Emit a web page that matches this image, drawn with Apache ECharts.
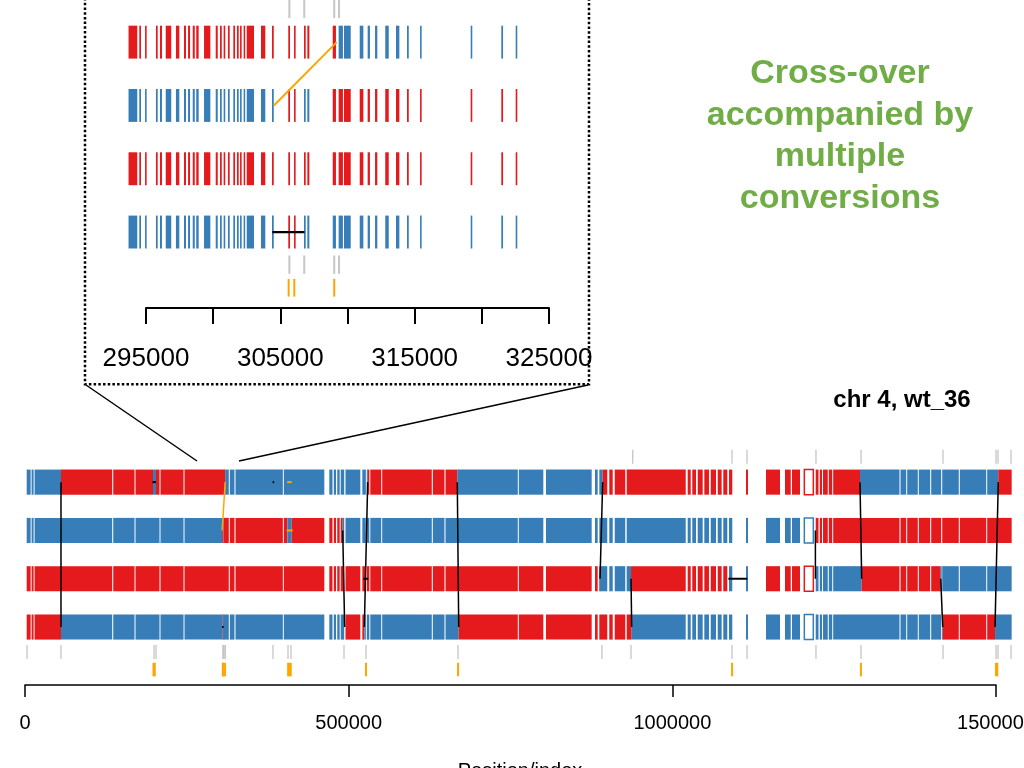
<!DOCTYPE html>
<html><head><meta charset="utf-8">
<script src="https://cdn.jsdelivr.net/npm/echarts@6/dist/echarts.min.js"></script>
<style>html,body{margin:0;padding:0;background:#fff}#c{width:1024px;height:768px}</style>
</head><body><div id="c"></div>
<script>
// ---------------- data (genomic positions) ----------------
const rowInitialColors = ['B', 'B', 'R', 'R'];           // rows 1..4 at chromosome start
// crossovers: [rowA, switch position in rowA, rowB, switch position in rowB, kind]
const crossovers = [
  [1, 55600, 4, 55600, 'k'],
  [1, 309200, 2, 304520, 'o'],
  [2, 490800, 4, 493800, 'k'],
  [1, 529400, 4, 524200, 'k'],
  [1, 667800, 4, 670000, 'k'],
  [1, 892400, 3, 888300, 'k'],
  [3, 936200, 4, 937200, 'k'],
  [2, 1221000, 3, 1221000, 'k'],
  [1, 1289900, 3, 1292500, 'k'],
  [3, 1414600, 4, 1417700, 'k'],
  [1, 1503500, 4, 1498500, 'k']
];
// conversions: [row, start, end, genotype]
const conversions = [
  [1, 197700, 202400, 'B'],
  [4, 305500, 306200, 'R'],
  [2, 306700, 307200, 'B'],
  [2, 405300, 412000, 'B'],
  [3, 1086000, 1117000, 'B']
];
// conversion tracts: [row, start, end, kind]
const tracts = [
  [1, 196900, 202400, 'k'],
  [4, 304400, 306800, 'k'],
  [1, 382500, 384500, 'k'],
  [1, 405000, 412000, 'o'],
  [2, 404300, 413500, 'o'],
  [3, 522600, 530300, 'k'],
  [3, 1086500, 1115900, 'k']
];
// marker blocks of the whole-chromosome view
const mainBlocks = [
  [2600, 8700], [10200, 13300], [14800, 134700], [136300, 169200], [170700, 207800], [209300, 244900],
  [246400, 314800], [316400, 323600], [325200, 398300], [399800, 462400],
  [470100, 475000], [477000, 480400], [482400, 486100], [487700, 493100], [495100, 518000], [521100, 526500],
  [528000, 531900], [533400, 550300], [551800, 628400], [630000, 648000], [649600, 761300], [762800, 800700],
  [804800, 875400], [880500, 884700], [887200, 899500], [902600, 907900], [911000, 927300], [929500, 1020700],
  [1023700, 1028400], [1030800, 1036600], [1039200, 1046900], [1049400, 1056600], [1059300, 1067500],
  [1070100, 1076200], [1078700, 1084900], [1087500, 1092600], [1113800, 1116900],
  [1144700, 1166300], [1174000, 1182900], [1184900, 1197200], [1221500, 1225800], [1227800, 1231200],
  [1232800, 1240100], [1241700, 1247000], [1248500, 1350900], [1352500, 1361300], [1362800, 1379200],
  [1380700, 1398300], [1399900, 1415300], [1416900, 1442500], [1444100, 1484900], [1486400, 1524200]
];
const mainOpenBlocks = [[1203900, 1217800]];
// individual markers of the zoomed view
const insetMarkers = [
  [293700, 294350], [294500, 294630], [294930, 295050], [295740, 295870], [296040, 296190], [296470, 296880],
  [297230, 297480], [297830, 297980], [298130, 298280], [298480, 298630], [298740, 298920], [299320, 299790],
  [300190, 300340], [300510, 300640], [300780, 300900], [301100, 301230], [301500, 301630], [301770, 301900],
  [302000, 302120], [302270, 302370], [302500, 303040], [303560, 303880], [304380, 304510], [305590, 305720],
  [306020, 306140], [306760, 306890], [307010, 307160], [308900, 309140], [309340, 309660], [309740, 310240],
  [310910, 311180], [311500, 311670], [312050, 312220], [312810, 313070], [313610, 313860], [314430, 314560],
  [315400, 315520], [319170, 319290], [321450, 321580], [322520, 322640]
];
const grayTicks = [3100, 55600, 199300, 202400, 305670, 306780, 309010, 309370, 383100, 406300, 410900,
  492800, 526800, 668900, 891300, 936100, 1092200, 1115400, 1221900, 1291500, 1418100, 1500000, 1503100, 1523200];
const grayTicksTopMain = [938800, 1092200, 1115400, 1221900, 1291500, 1418100, 1500000, 1503100, 1523200];
const orangeTicks = [198500, 200500, 305620, 306040, 309010, 406500, 408500, 410500, 526800, 669000,
  1092300, 1291300, 1500000, 1502000];
const mainTickLabels = [0, 500000, 1000000, 1500000];
const insetTickLabels = [295000, 305000, 315000, 325000];

// ---------------- styling / layout ----------------
const BLUE = '#377EB8', RED = '#E41A1C', ORANGE = '#FFA500', GRAY = '#C6C6C6', BLACK = '#000000';
const FONT = '"Liberation Sans", Arial, Helvetica, sans-serif';
const YMAX = 5.2;
const LV = { barHalf: 0.26, top: [0.33, 0.62], bottom: [4.37, 4.66], orange: [4.74, 5.02] };

function colorAt(row, pos) {
  let col = rowInitialColors[row - 1];
  crossovers.forEach(c => {
    const p = c[0] === row ? c[1] : (c[2] === row ? c[3] : null);
    if (p !== null && pos >= p) col = (col === 'B' ? 'R' : 'B');
  });
  conversions.forEach(c => { if (c[0] === row && pos >= c[1] && pos < c[2]) col = c[3]; });
  return col;
}
function segs(row, s, e) {
  const bps = [];
  crossovers.forEach(c => { if (c[0] === row) bps.push(c[1]); if (c[2] === row) bps.push(c[3]); });
  conversions.forEach(c => { if (c[0] === row) { bps.push(c[1]); bps.push(c[2]); } });
  const pts = [s].concat(bps.filter(p => p > s && p < e).sort((a, b) => a - b)).concat([e]);
  const out = [];
  for (let i = 0; i < pts.length - 1; i++) {
    const a = pts[i], b = pts[i + 1];
    if (b <= a) continue;
    const c = colorAt(row, (a + b) / 2);
    const last = out[out.length - 1];
    if (last && last[2] === c && last[1] === a) last[1] = b; else out.push([a, b, c]);
  }
  return out;
}

function buildSeries(gi, cfg) {
  const S = [];
  const inR = p => p >= cfg.lo && p <= cfg.hi;
  const bars = [];
  cfg.blocks.forEach(b => { for (let r = 1; r <= 4; r++) segs(r, b[0], b[1]).forEach(g => bars.push([g[0], g[1], r, g[2] === 'R' ? 1 : 0, 0])); });
  cfg.open.forEach(b => { for (let r = 1; r <= 4; r++) bars.push([b[0], b[1], r, colorAt(r, (b[0] + b[1]) / 2) === 'R' ? 1 : 0, 1]); });
  S.push({
    type: 'custom', xAxisIndex: gi, yAxisIndex: gi, clip: false, silent: true, animation: false,
    encode: { x: [0, 1], y: 2 }, data: bars,
    renderItem: (p, api) => {
      const a = api.value(0), b = api.value(1), r = api.value(2), red = api.value(3), open = api.value(4);
      const p0 = api.coord([a, r]), p1 = api.coord([b, r]);
      const y0 = api.coord([a, r - LV.barHalf])[1], y1 = api.coord([a, r + LV.barHalf])[1];
      const col = red ? RED : BLUE;
      const w = Math.max(p1[0] - p0[0], cfg.minW);
      return {
        type: 'rect', shape: { x: p0[0], y: Math.min(y0, y1), width: w, height: Math.abs(y1 - y0) },
        style: open ? { fill: '#fff', stroke: col, lineWidth: 1.5 } : { fill: col }
      };
    }
  });
  const tickSeries = (vals, lvl, color, w) => ({
    type: 'custom', xAxisIndex: gi, yAxisIndex: gi, clip: false, silent: true, animation: false,
    encode: { x: 0 }, data: vals.filter(inR).map(v => [v]),
    renderItem: (p, api) => {
      const v = api.value(0);
      const a = api.coord([v, lvl[0]]), b = api.coord([v, lvl[1]]);
      return { type: 'line', shape: { x1: a[0], y1: a[1], x2: b[0], y2: b[1] }, style: { stroke: color, lineWidth: w } };
    }
  });
  S.push(tickSeries(cfg.topTicks, LV.top, GRAY, cfg.tickW));
  S.push(tickSeries(grayTicks, LV.bottom, GRAY, cfg.tickW));
  S.push(tickSeries(orangeTicks, LV.orange, ORANGE, cfg.orangeW));
  S.push({
    type: 'custom', xAxisIndex: gi, yAxisIndex: gi, clip: false, silent: true, animation: false,
    encode: { x: [1, 2], y: 0 },
    data: tracts.filter(t => inR(t[1]) && inR(t[2])).map(t => [t[0], t[1], t[2], t[3] === 'o' ? 1 : 0]),
    renderItem: (p, api) => {
      const r = api.value(0), a = api.coord([api.value(1), r]), b = api.coord([api.value(2), r]);
      return { type: 'line', shape: { x1: a[0], y1: a[1], x2: Math.max(b[0], a[0] + 1.5), y2: b[1] },
        style: { stroke: api.value(3) ? ORANGE : BLACK, lineWidth: cfg.tractW } };
    }
  });
  S.push({
    type: 'custom', xAxisIndex: gi, yAxisIndex: gi, clip: false, silent: true, animation: false,
    encode: { x: [1, 3], y: [0, 2] },
    data: crossovers.filter(c => inR(c[1]) && inR(c[3])).map(c => [c[0], c[1], c[2], c[3], c[4] === 'o' ? 1 : 0]),
    renderItem: (p, api) => {
      const a = api.coord([api.value(1), api.value(0)]), b = api.coord([api.value(3), api.value(2)]);
      return { type: 'line', shape: { x1: a[0], y1: a[1], x2: b[0], y2: b[1] },
        style: { stroke: api.value(4) ? ORANGE : BLACK, lineWidth: cfg.xW } };
    }
  });
  return S;
}

const MAIN = { left: 25, width: 971, step: 48.3, axisY: 685 };
const INSET = { left: 146, width: 403, step: 63.3, axisY: 308 };
function gridOf(L) {
  return { left: L.left, width: L.width, top: L.axisY - YMAX * L.step, height: YMAX * L.step,
    containLabel: false, outerBoundsMode: 'none' };
}

const chart = echarts.init(document.getElementById('c'), null, { renderer: 'canvas' });
const option = {
  animation: false,
  backgroundColor: '#ffffff',
  grid: [gridOf(MAIN), gridOf(INSET)],
  xAxis: [
    { gridIndex: 0, type: 'value', position: 'bottom', min: 0, max: 1500000, interval: 500000, splitLine: { show: false },
      axisLine: { show: true, onZero: false, lineStyle: { color: BLACK, width: 1.5 } },
      axisTick: { show: true, length: 12, lineStyle: { color: BLACK, width: 1.5 } },
      axisLabel: { show: true, margin: 28, fontSize: 20, fontFamily: FONT, color: BLACK,
        formatter: v => mainTickLabels.indexOf(v) >= 0 ? String(v) : '' } },
    { gridIndex: 1, type: 'value', position: 'bottom', min: 295000, max: 325000, interval: 5000, splitLine: { show: false },
      axisLine: { show: true, onZero: false, lineStyle: { color: BLACK, width: 2 } },
      axisTick: { show: true, length: 16, lineStyle: { color: BLACK, width: 2 } },
      axisLabel: { show: true, margin: 38, fontSize: 26, fontFamily: FONT, color: BLACK,
        formatter: v => insetTickLabels.indexOf(v) >= 0 ? String(v) : '' } }
  ],
  yAxis: [
    { gridIndex: 0, type: 'value', min: 0, max: YMAX, inverse: true, show: false },
    { gridIndex: 1, type: 'value', min: 0, max: YMAX, inverse: true, show: false }
  ],
  series: [].concat(
    buildSeries(0, { lo: 0, hi: 1600000, blocks: mainBlocks, open: mainOpenBlocks, topTicks: grayTicksTopMain,
      minW: 1, tickW: 1.3, orangeW: 2, tractW: 2, xW: 1.5 }),
    buildSeries(1, { lo: 293000, hi: 324000, blocks: insetMarkers, open: [], topTicks: grayTicks,
      minW: 1.5, tickW: 2, orangeW: 2, tractW: 2.2, xW: 2 })
  ),
  graphic: [
    { type: 'rect', silent: true, shape: { x: 85, y: -10, width: 504, height: 394.3 },
      style: { fill: 'none', stroke: BLACK, lineWidth: 2.5, lineDash: [2.5, 2.2] } },
    { type: 'line', silent: true, shape: { x1: 86, y1: 385, x2: 197, y2: 461 }, style: { stroke: BLACK, lineWidth: 1.5 } },
    { type: 'line', silent: true, shape: { x1: 588, y1: 385, x2: 239, y2: 461 }, style: { stroke: BLACK, lineWidth: 1.5 } },
    { type: 'text', silent: true, x: 840, y: 53,
      style: { text: 'Cross-over\naccompanied by\nmultiple\nconversions', fill: '#70AD47',
        fontSize: 34, fontWeight: 'bold', fontFamily: FONT, lineHeight: 41.5,
        align: 'center', textAlign: 'center', verticalAlign: 'top', textVerticalAlign: 'top' } },
    { type: 'text', silent: true, x: 902, y: 400,
      style: { text: 'chr 4, wt_36', fill: BLACK, fontSize: 24, fontWeight: 'bold', fontFamily: FONT,
        align: 'center', textAlign: 'center', verticalAlign: 'middle', textVerticalAlign: 'middle' } },
    { type: 'text', silent: true, x: 520, y: 771,
      style: { text: 'Position/index', fill: BLACK, fontSize: 20, fontFamily: FONT,
        align: 'center', textAlign: 'center', verticalAlign: 'middle', textVerticalAlign: 'middle' } }
  ]
};
chart.setOption(option);
</script>
</body></html>
